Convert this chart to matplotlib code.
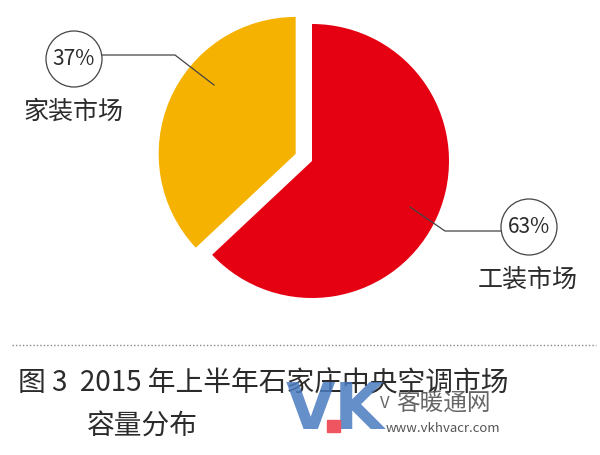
import matplotlib.pyplot as plt
from matplotlib.patches import Circle, Rectangle

plt.rcParams['font.family'] = ['Noto Sans CJK SC', 'DejaVu Sans']
plt.rcParams['font.weight'] = 'light'

# 数据
labels = ['工装市场', '家装市场']
shares = [63, 37]
colors = ['#E50012', '#F6B200']
explode = [0, 0.13]

fig = plt.figure(figsize=(6, 4.55), dpi=100)
W, H = 600, 455

# 饼图（半径 137px，圆心在 (312,161) 像素处）
cx, cy, r, lim = 312, 161, 137, 1.3
ax = fig.add_axes([(cx - r * lim) / W, (H - cy - r * lim) / H,
                   2 * r * lim / W, 2 * r * lim / H])
ax.pie(shares, colors=colors, explode=explode, startangle=90,
       counterclock=False, wedgeprops=dict(linewidth=0))
ax.set_xlim(-lim, lim)
ax.set_ylim(-lim, lim)
ax.axis('off')

# 标注层，像素坐标
ov = fig.add_axes([0, 0, 1, 1], zorder=5)
ov.set_xlim(0, W)
ov.set_ylim(H, 0)
ov.axis('off')
ov.patch.set_alpha(0)

txt = '#2b2b2b'
lc = '#444444'

# 37% 标签
ov.add_patch(Circle((74, 59), 28, fill=False, ec=lc, lw=0.9))
ov.text(74, 59, f'{shares[1]}%', ha='center', va='center', fontsize=15, color=txt)
ov.plot([102, 175, 214], [55, 55, 85], color=lc, lw=0.9)
ov.text(73, 112, labels[1], ha='center', va='center', fontsize=18, color=txt)

# 63% 标签
ov.add_patch(Circle((529, 227), 28, fill=False, ec=lc, lw=0.9))
ov.text(529, 227, f'{shares[0]}%', ha='center', va='center', fontsize=15, color=txt)
ov.plot([501, 445, 410], [231, 231, 207], color=lc, lw=0.9)
ov.text(528, 280, labels[0], ha='center', va='center', fontsize=18, color=txt)

# 分隔虚线
ov.plot([12, 596], [345, 345], color='#888888', lw=1, ls=(0, (1, 1.5)))

# 图题
ov.text(18, 383, '图 3  2015 年上半年石家庄中央空调市场', ha='left', va='center',
        fontsize=20, color=txt)
ov.text(87, 427, '容量分布', ha='left', va='center', fontsize=20, color=txt)

# 水印
ov.text(335, 411, 'VK', ha='center', va='center', fontsize=46, fontweight='bold',
        family='DejaVu Sans', color='#4A7BC0', alpha=0.85, zorder=6)
ov.add_patch(Rectangle((327, 420), 13, 12, color='#EE5560', zorder=7))
ov.text(380, 404, 'V', ha='left', va='center', fontsize=12, color='#666666', zorder=6)
ov.text(443, 404, '客暖通网', ha='center', va='center', fontsize=17,
        color='#555555', alpha=0.9, zorder=6)
ov.text(443, 428, 'www.vkhvacr.com', ha='center', va='center', fontsize=9.5,
        color='#555555', zorder=6)

fig.savefig('out.png', dpi=100)
